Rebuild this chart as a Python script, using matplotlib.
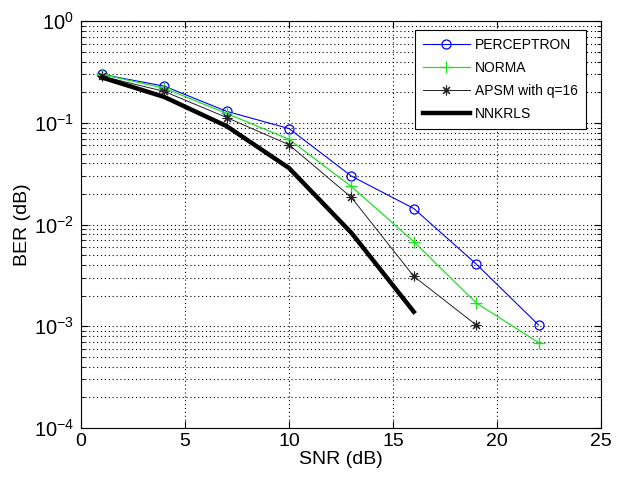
import numpy as np
import matplotlib.pyplot as plt
from matplotlib.ticker import FuncFormatter

plt.rcParams['font.family'] = ['Liberation Sans', 'DejaVu Sans']
plt.rcParams['mathtext.fontset'] = 'custom'
plt.rcParams['mathtext.rm'] = 'Liberation Sans'

snr = [1, 4, 7, 10, 13, 16, 19, 22]
ber_perceptron = [0.30, 0.23, 0.13, 0.088, 0.030, 0.0144, 0.0041, 0.00103]
ber_norma = [0.30, 0.22, 0.124, 0.069, 0.0237, 0.0068, 0.0017, 0.00069]
snr_apsm = [1, 4, 7, 10, 13, 16, 19]
ber_apsm = [0.288, 0.204, 0.113, 0.061, 0.0185, 0.0031, 0.00103]
snr_nnkrls = [1, 4, 7, 10, 13, 16]
ber_nnkrls = [0.28, 0.18, 0.093, 0.036, 0.0083, 0.00139]

fig = plt.figure(figsize=(6.31, 4.82), dpi=100)
ax = fig.add_axes([0.1284, 0.112, 0.824, 0.844])

ax.semilogy(snr, ber_perceptron, '-o', color='#0000ff', lw=0.8, ms=6.5,
            mfc='none', mew=0.9, label='PERCEPTRON')
ax.semilogy(snr, ber_norma, '-+', color='#22e022', lw=0.9, ms=8,
            mew=1.0, label='NORMA')
ax.semilogy(snr_apsm, ber_apsm, '-', marker=(8, 2, 0), color='#222222', lw=0.7,
            ms=7, mew=0.8, label='APSM with q=16')
ax.semilogy(snr_nnkrls, ber_nnkrls, '-', color='black', lw=3.2, label='NNKRLS')

ax.set_xlim(0, 25)
ax.set_ylim(1e-4, 1)
ax.set_xticks([0, 5, 10, 15, 20, 25])
ax.set_yticks([1e-4, 1e-3, 1e-2, 1e-1, 1])
ax.yaxis.set_major_formatter(FuncFormatter(
    lambda v, p: r'$\mathregular{10^{%d}}$' % round(np.log10(v))))

ax.grid(True, which='major', axis='both', linestyle=(0, (1, 2.5)), color='black', lw=0.8)
ax.grid(True, which='minor', axis='y', linestyle=(0, (1, 2.5)), color='black', lw=0.8)

ax.tick_params(which='both', direction='in', top=True, right=True, labelsize=14)
ax.tick_params(which='major', length=5)
ax.tick_params(which='minor', length=3)
ax.tick_params(axis='y', labelsize=14.5, pad=5)
for s in ax.spines.values():
    s.set_linewidth(0.8)

ax.set_xlabel('SNR (dB)', fontsize=14, labelpad=1)
ax.set_ylabel('BER (dB)', fontsize=14, labelpad=2)

leg = ax.legend(loc='upper right', fontsize=10, fancybox=False, framealpha=1,
                edgecolor='black', borderpad=0.55, labelspacing=0.65,
                handlelength=3.4, handletextpad=0.4, borderaxespad=0,
                bbox_to_anchor=(0.971, 0.978))
leg.get_frame().set_linewidth(0.8)

fig.savefig('out.png', dpi=100)
